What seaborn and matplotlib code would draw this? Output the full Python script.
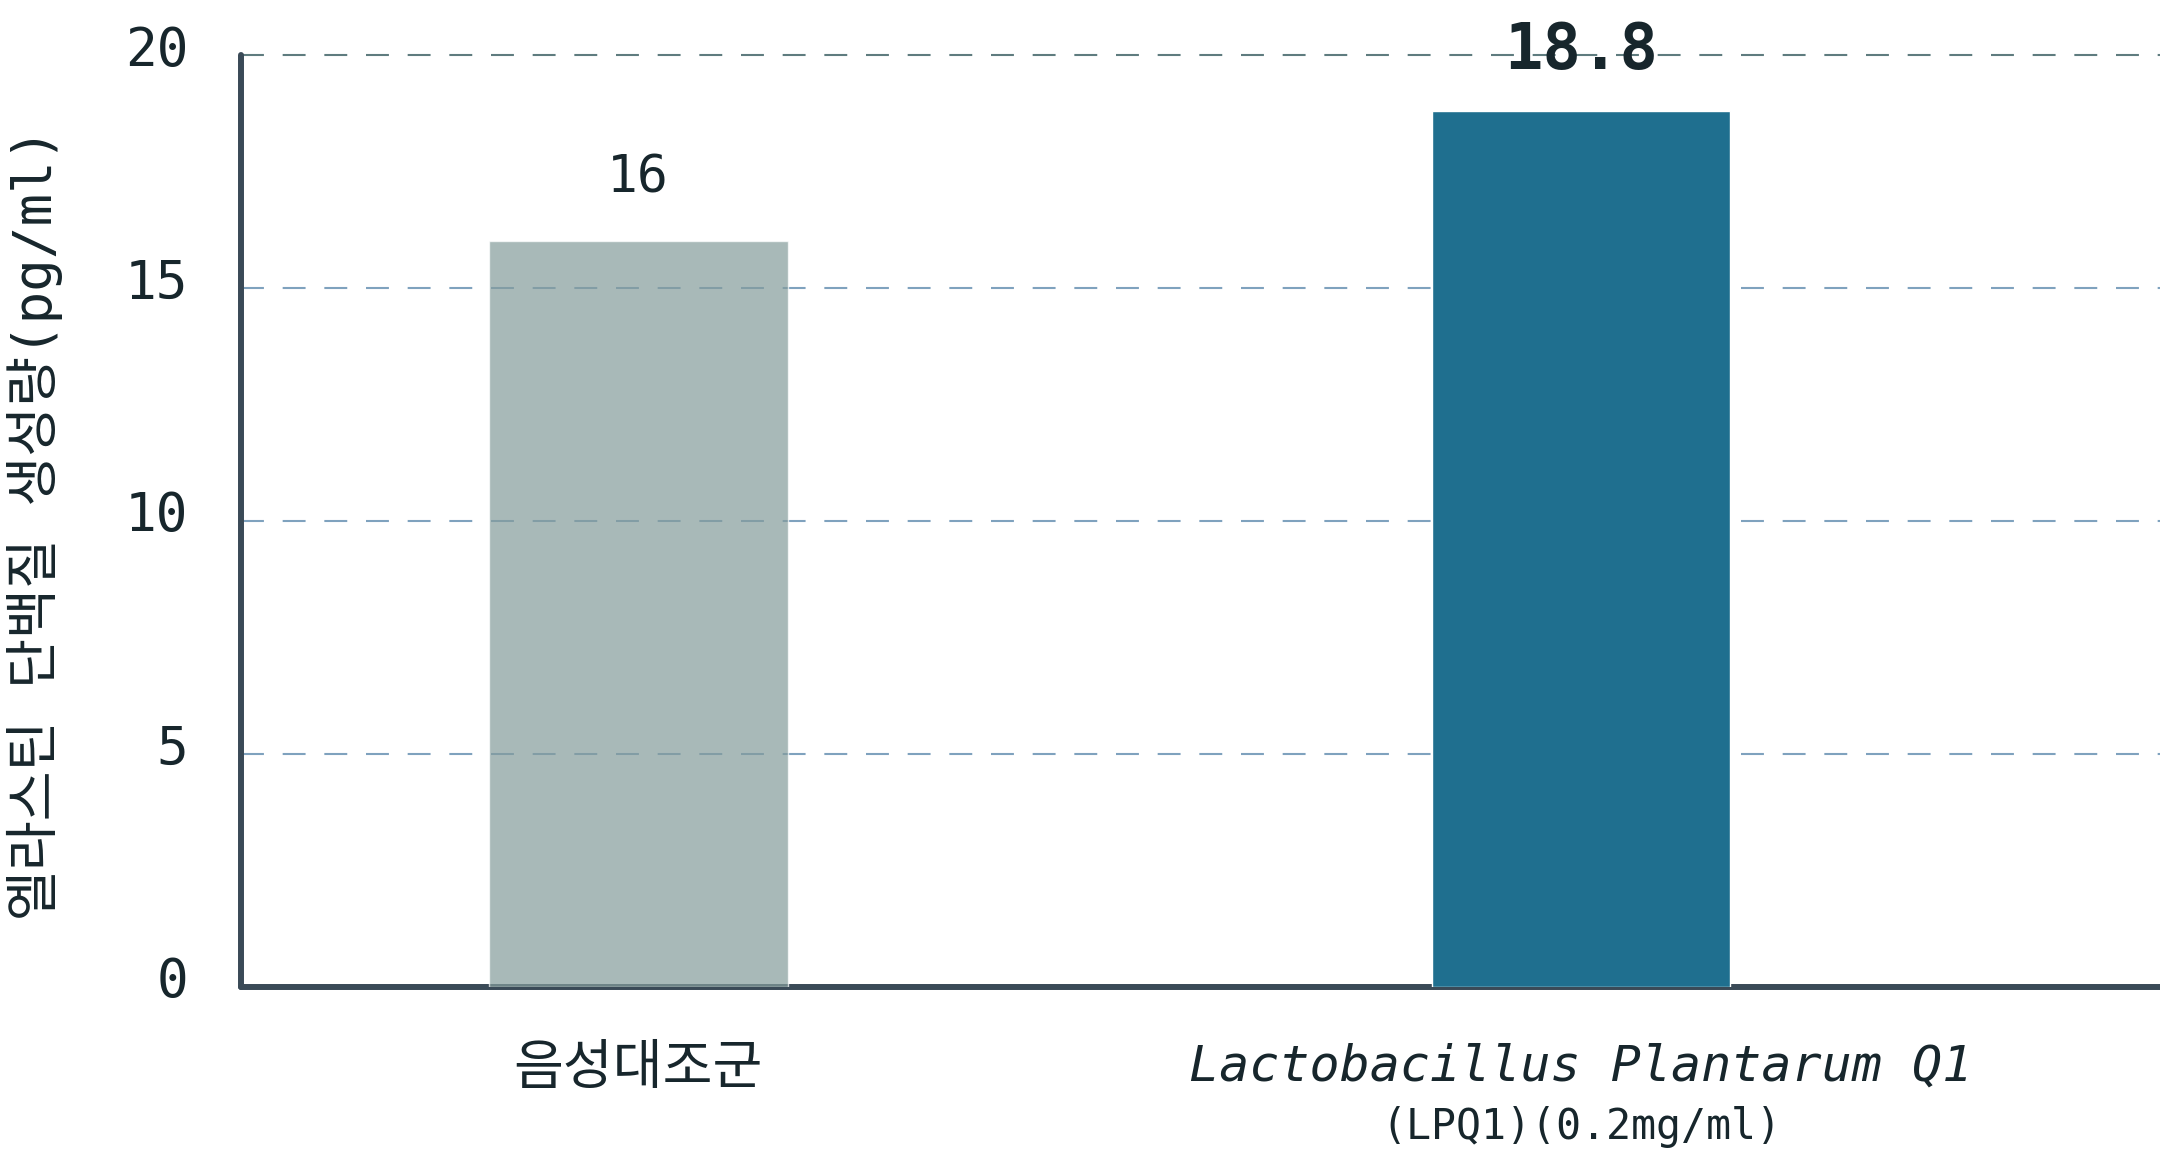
import numpy as np
import pandas as pd
import seaborn as sns
import matplotlib.pyplot as plt
from matplotlib import transforms

# data
groups = ["음성대조군", "Lactobacillus Plantarum Q1"]
values = [16, 18.8]
value_labels = ["16", "18.8"]
sub_label = "(LPQ1)(0.2mg/ml)"
y_ticks = [0, 5, 10, 15, 20]
y_title = "엘라스틴 단백질 생성량(pg/ml)"

bar_colors = ["#849C9B", "#1F6F8F"]
text_color = "#17262C"
spine_color = "#3A4A57"

sns.set_style("white")
plt.rcParams['font.family'] = ['DejaVu Sans Mono', 'Noto Sans CJK KR']

df = pd.DataFrame({"group": groups, "value": values})

fig = plt.figure(figsize=(21.6, 11.58), dpi=100)
ax = fig.add_axes([0.1116, 0.1477, 0.8884, 0.8048])

sns.barplot(data=df, x="group", y="value", hue="group", palette=bar_colors,
            width=0.317, legend=False, saturation=1, ax=ax, zorder=3)
ax.patches[0].set_alpha(0.7)

ax.set_xlim(-0.421, 1.614)
ax.set_ylim(0, 20)

# dashed grid, behind bars
ax.set_axisbelow(True)
ax.set_yticks(y_ticks)
ax.yaxis.grid(True, linestyle=(0, (11, 9)), linewidth=1.5, color="#7FA2BE")
ax.xaxis.grid(False)
for gl in ax.get_ygridlines():
    gl.set_clip_on(False)
ax.get_ygridlines()[-1].set_color("#5F7C7F")

# spines
sns.despine(ax=ax, top=True, right=True)
for s in ["left", "bottom"]:
    ax.spines[s].set_color(spine_color)
    ax.spines[s].set_linewidth(4.3)
    ax.spines[s].set_capstyle("round")
    ax.spines[s].set_zorder(2.5)

# tick labels
ax.tick_params(axis="y", length=0, pad=38, labelsize=38, labelcolor=text_color)
ax.tick_params(axis="x", length=0, pad=40, labelsize=39, labelcolor=text_color)
shift = transforms.ScaledTranslation(0, 10 / 100, fig.dpi_scale_trans)
for t in ax.yaxis.get_major_ticks():
    t.label1.set_transform(t.label1.get_transform() + shift)

ax.set_xticks([0, 1])
ax.set_xticklabels(groups)
ax.get_xticklabels()[1].set_style("italic")
ax.get_xticklabels()[1].set_fontsize(36)

ax.text(1, -0.150, sub_label, transform=ax.get_xaxis_transform(),
        ha="center", va="center", fontsize=30, color=text_color)

ax.set_xlabel("")
ax.set_ylabel(y_title, fontsize=39, color=text_color)
ax.yaxis.set_label_coords(-0.093, 0.497)

# value labels on bars
ax.annotate(value_labels[0], (0, values[0]), xytext=(0, 45), textcoords="offset points",
            ha="center", va="center", fontsize=37, color=text_color, zorder=4)
ax.annotate(value_labels[1], (1, values[1]), xytext=(0, 43), textcoords="offset points",
            ha="center", va="center", fontsize=46, fontweight="bold", color=text_color, zorder=4)

fig.savefig("out.png", dpi=100)
